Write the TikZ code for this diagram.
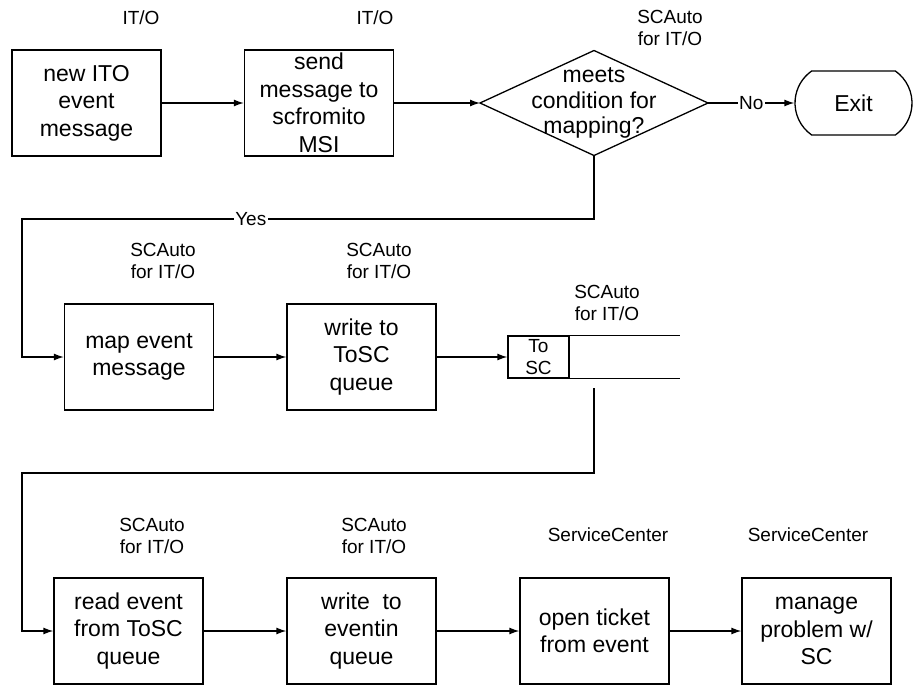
\documentclass[tikz,border=0pt]{standalone}
\usepackage{fontspec}
\setmainfont{Liberation Sans}
\usetikzlibrary{arrows.meta,shapes.misc}
\begin{document}
\begin{tikzpicture}[x=1pt,y=-1pt,
  box/.style={draw,line width=1.3pt,minimum width=149pt,minimum height=106pt,inner sep=0pt,align=center,font=\fontsize{23}{27.5}\selectfont},
  lab/.style={align=center,inner sep=0pt,font=\fontsize{19}{22}\selectfont},
  conn/.style={line width=1.3pt,-{Latex[length=10pt,width=7pt]}},
  plain/.style={line width=1.3pt},
  tag/.style={fill=white,inner sep=1.5pt,font=\fontsize{19}{22}\selectfont}
]
\useasboundingbox (0,0) rectangle (914,685);

% row 1
\node[box] (b1) at (86.5,103) {new ITO\\event\\message};
\node[box] (b2) at (319,103) {send\\message to\\scfromito\\MSI};
\node[inner sep=0pt,outer sep=0pt,minimum width=228pt,minimum height=105pt,align=center,font=\fontsize{23}{25.5}\selectfont] (d) at (594,103) {meets\\condition for\\mapping?};
\draw[plain] (d.west) -- (d.north) -- (d.east) -- (d.south) -- cycle;
\node[draw,line width=1.3pt,rounded rectangle,rounded rectangle arc length=110,minimum width=117pt,minimum height=64pt,inner sep=0pt,font=\fontsize{23}{27}\selectfont] (ex) at (853.5,103) {Exit};

\node[lab] (l1) at (141,17.5) {IT/O};
\node[lab] (l2) at (375,17.5) {IT/O};
\node[lab] (l3) at (670,28) {SCAuto\\for IT/O};

% row 2
\node[box] (b3) at (139,357) {map event\\message};
\node[box] (b4) at (361.5,357) {write to\\ToSC\\queue};
\node[draw,line width=1.3pt,minimum width=61pt,minimum height=42pt,inner sep=0pt,align=center,font=\fontsize{19}{22}\selectfont] (q) at (538.5,357) {To\\SC};
\draw[plain] (q.north east) -- ++(110,0);
\draw[plain] (q.south east) -- ++(110,0);

\node[lab] (l4) at (163,261) {SCAuto\\for IT/O};
\node[lab] (l5) at (379,261) {SCAuto\\for IT/O};
\node[lab] (l6) at (607,303) {SCAuto\\for IT/O};

% row 3
\node[box] (b5) at (128.5,631) {read event\\from ToSC\\queue};
\node[box] (b6) at (361.5,631) {write\ \ to\\eventin\\queue};
\node[box] (b7) at (594.5,631) {open ticket\\from event};
\node[box] (b8) at (816.5,631) {manage\\problem w/\\SC};

\node[lab] (l7) at (152,536) {SCAuto\\for IT/O};
\node[lab] (l8) at (374,536) {SCAuto\\for IT/O};
\node[lab] (l9) at (608,535) {ServiceCenter};
\node[lab] (l10) at (808,535) {ServiceCenter};

% connectors
\draw[conn] (b1) -- (b2);
\draw[conn] (b2) -- (d.west);
\draw[conn] (d.east) -- node[tag]{No} (ex.west);
\coordinate (y1) at (594,219);
\coordinate (y2) at (22,219);
\draw[conn] (d.south) -- (y1) -- node[tag,pos=0.6]{Yes} (y2) |- (b3.west);
\draw[conn] (b3) -- (b4);
\draw[conn] (b4) -- (q.west);
\coordinate (qo) at (594,388);
\coordinate (q1) at (594,473);
\coordinate (q2) at (22,473);
\draw[conn] (qo) -- (q1) -- (q2) |- (b5.west);
\draw[conn] (b5) -- (b6);
\draw[conn] (b6) -- (b7);
\draw[conn] (b7) -- (b8);
\end{tikzpicture}
\end{document}
